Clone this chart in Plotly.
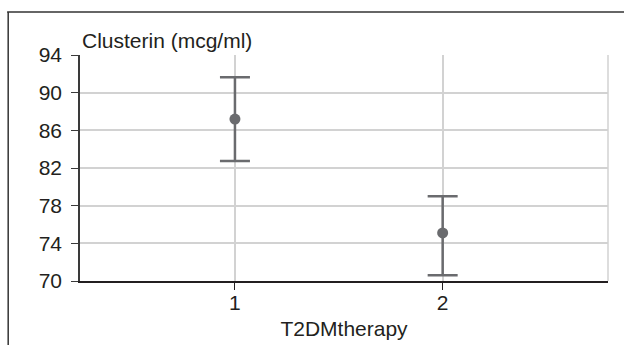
import plotly.graph_objects as go

# Clusterin by T2DM therapy group: mean with error bars
groups = [1, 2]
clusterin_mean = [87.2, 75.1]
err_plus = [4.45, 3.9]
err_minus = [4.45, 4.5]

y_ticks = [70, 74, 78, 82, 86, 90, 94]
x_ticks = [1, 2]

mark_color = "#6a6b6e"
text_color = "#231f20"
grid_color = "#d2d2d2"
font_family = "Liberation Sans, Arial, sans-serif"
fs = 21

fig = go.Figure()
fig.add_trace(go.Scatter(
    x=groups,
    y=clusterin_mean,
    mode="markers",
    marker=dict(color=mark_color, size=11),
    error_y=dict(
        type="data",
        symmetric=False,
        array=err_plus,
        arrayminus=err_minus,
        color=mark_color,
        thickness=2.5,
        width=15,
    ),
    showlegend=False,
))

fig.update_layout(
    width=624,
    height=345,
    margin=dict(l=80, r=16, t=55, b=64, autoexpand=False),
    paper_bgcolor="white",
    plot_bgcolor="white",
    font=dict(family=font_family, size=fs, color=text_color),
    xaxis=dict(
        range=[0.254, 2.796],
        tickvals=x_ticks,
        ticktext=[str(v) for v in x_ticks],
        showgrid=True,
        gridcolor=grid_color,
        gridwidth=1.5,
        zeroline=False,
        showline=True,
        linecolor="#231f20",
        linewidth=1.5,
        ticks="outside",
        ticklen=7,
        tickcolor="#231f20",
        ticklabelstandoff=-5,
        tickfont=dict(size=fs),
        automargin=False,
        title=dict(text="T2DMtherapy", font=dict(size=fs), standoff=8),
    ),
    yaxis=dict(
        range=[70, 94],
        tickvals=y_ticks,
        ticktext=[str(v) for v in y_ticks],
        showgrid=True,
        gridcolor=grid_color,
        gridwidth=1.5,
        zeroline=False,
        showline=True,
        linecolor="#3a3a3a",
        linewidth=1.5,
        ticks="outside",
        ticklen=7,
        tickcolor="#3a3a3a",
        ticklabelstandoff=5,
        tickfont=dict(size=fs),
        automargin=False,
    ),
    shapes=[
        # light right edge of the plotting area
        dict(type="line", xref="paper", yref="paper", x0=1, x1=1, y0=0, y1=1,
             line=dict(color=grid_color, width=1.5)),
        # outer frame: top and left rules
        dict(type="line", xref="paper", yref="paper", x0=-0.138, x1=1.05,
             y0=1.19, y1=1.19, line=dict(color="#333333", width=1.5)),
        dict(type="line", xref="paper", yref="paper", x0=-0.136, x1=-0.136,
             y0=1.19, y1=-0.3, line=dict(color="#333333", width=1.5)),
    ],
    annotations=[
        dict(text="Clusterin (mcg/ml)", xref="paper", yref="paper",
             x=0, y=1, xanchor="left", yanchor="bottom", yshift=1,
             showarrow=False, font=dict(size=fs, color=text_color)),
    ],
)

fig.write_html("out.html")
